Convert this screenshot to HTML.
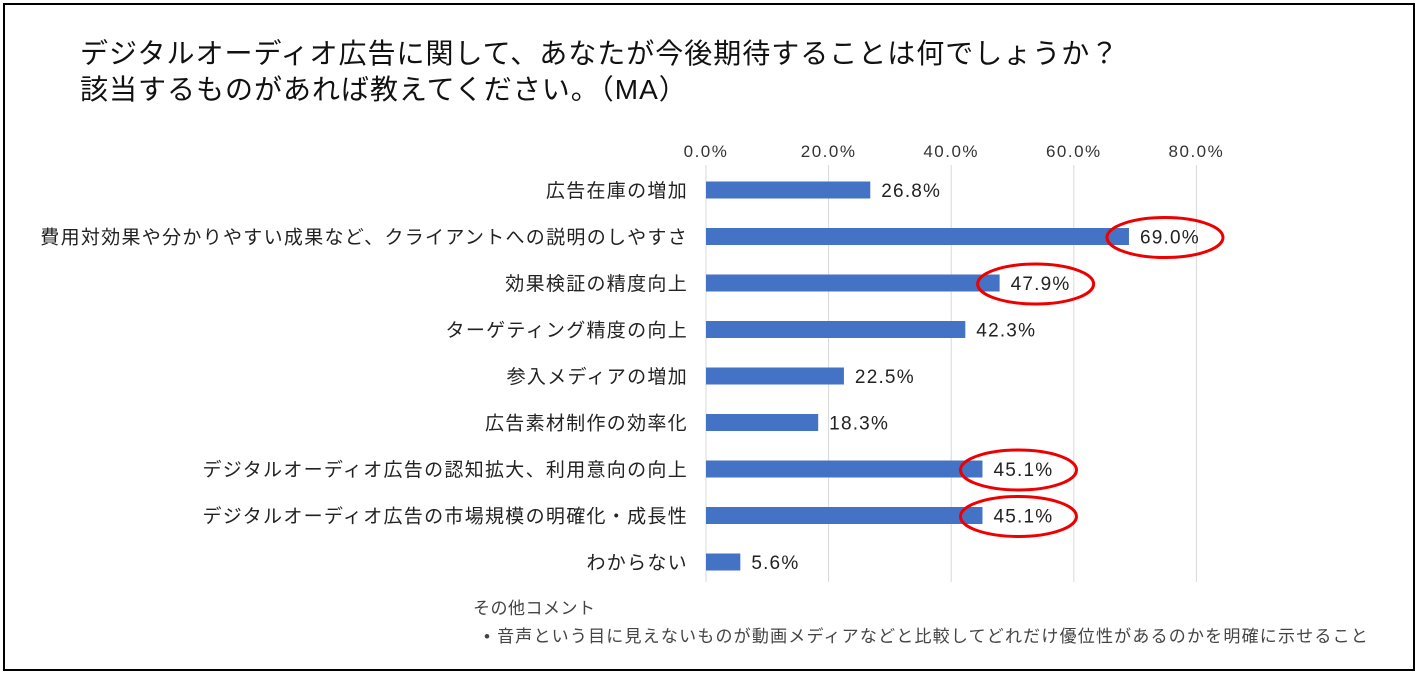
<!DOCTYPE html>
<html><head><meta charset="utf-8">
<style>
body{margin:0;background:#fff;width:1418px;height:674px;overflow:hidden;font-family:"Liberation Sans","Noto Sans CJK JP",sans-serif;}
#frame{position:absolute;left:3px;top:3px;width:1408px;height:664px;border:2px solid #000;}
.title{position:absolute;left:80px;font-size:28px;color:#111;white-space:nowrap;letter-spacing:1px;}
</style></head><body>
<div id="frame"></div>
<div class="title" style="top:32px">デジタルオーディオ広告に関して、あなたが今後期待することは何でしょうか？</div>
<div class="title" style="top:68px">該当するものがあれば教えてください。（MA）</div>
<svg id="chart" width="1418" height="674" style="position:absolute;left:0;top:0"></svg>
<script>
const categories=["広告在庫の増加","費用対効果や分かりやすい成果など、クライアントへの説明のしやすさ","効果検証の精度向上","ターゲティング精度の向上","参入メディアの増加","広告素材制作の効率化","デジタルオーディオ広告の認知拡大、利用意向の向上","デジタルオーディオ広告の市場規模の明確化・成長性","わからない"];
const values=[26.8,69.0,47.9,42.3,22.5,18.3,45.1,45.1,5.6];
const highlighted=[false,true,true,false,false,false,true,true,false];
const ticks=[0,20,40,60,80];
const NS="http://www.w3.org/2000/svg";
const svg=document.getElementById('chart');
const x0=706,pxPer=6.13,rowTop=190,rowStep=46.5,barH=17;
const xs=v=>x0+v*pxPer;
const ys=i=>rowTop+i*rowStep;
function mk(t,a){const e=document.createElementNS(NS,t);for(const k in a)e.setAttribute(k,a[k]);svg.appendChild(e);return e;}
ticks.forEach(t=>{
  const g=mk('line',{x1:xs(t),x2:xs(t),y1:165,y2:582,stroke:'#d9d9d9','stroke-width':1});
  
  
  const l=mk('text',{x:xs(t),y:157,'text-anchor':'middle','font-size':17,fill:'#333','letter-spacing':'1.5'});
  l.textContent=t.toFixed(1)+'%';
  
  
});
categories.forEach((c,i)=>{
  const y=ys(i);
  const lab=mk('text',{x:688,y:y+7,'text-anchor':'end','font-size':19,fill:'#222','letter-spacing':'1.3'});
  lab.textContent=c;
  
  
  const b=mk('rect',{x:xs(0),y:y-barH/2,width:xs(values[i])-xs(0),height:barH,fill:'#4472c4'});
  
  
  const v=mk('text',{x:xs(values[i])+11,y:y+7,'font-size':19,fill:'#222','letter-spacing':'1.2'});
  v.textContent=values[i].toFixed(1)+'%';
  
  
  if(highlighted[i]){
    const e=mk('ellipse',{cx:xs(values[i])+36,cy:y+1,rx:58,ry:20,fill:'none',stroke:'#e00',"stroke-width":3});
    
    
  }
});
const n1=mk('text',{x:473,y:614,'font-size':17,fill:'#444','letter-spacing':'0.5'});n1.textContent='その他コメント';


const n2=mk('text',{x:484,y:642,'font-size':17,fill:'#444','letter-spacing':'1.2'});n2.textContent='•  音声という目に見えないものが動画メディアなどと比較してどれだけ優位性があるのかを明確に示せること';


</script>
</body></html>
